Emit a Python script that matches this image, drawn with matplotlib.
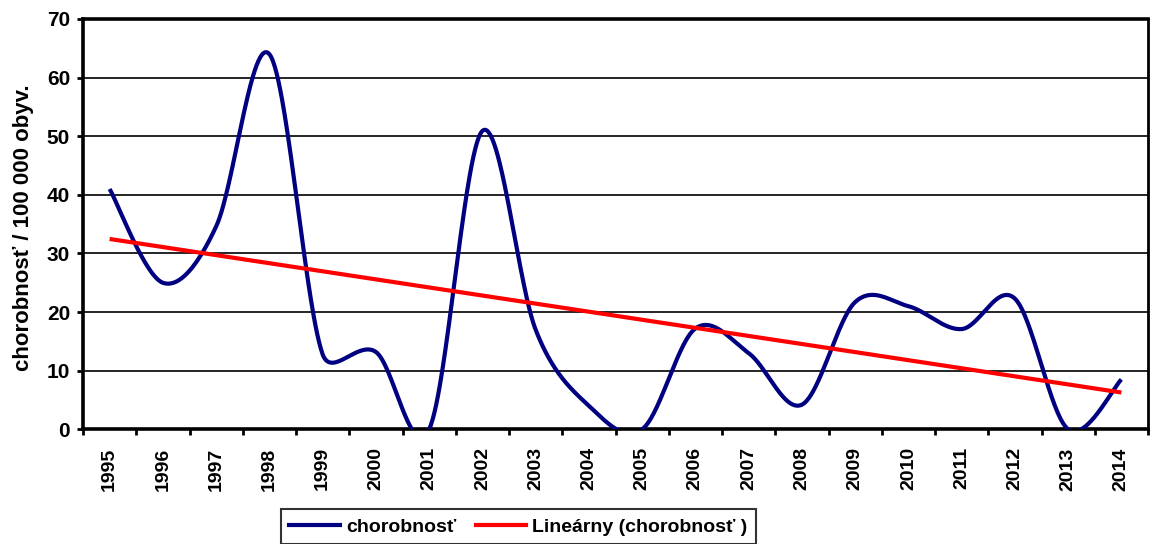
import numpy as np
import matplotlib
matplotlib.use("Agg")
import matplotlib.pyplot as plt
from matplotlib.lines import Line2D

years = [str(y) for y in range(1995, 2015)]
values = [41.0, 25.0, 34.6, 64.0, 12.8, 13.2, 0.0, 50.9, 17.0, 4.0,
          0.0, 17.2, 13.0, 4.2, 21.7, 21.0, 17.1, 22.3, 0.0, 8.5]
yticks = [0, 10, 20, 30, 40, 50, 60, 70]
series_name = "chorobnosť"
trend_name = "Lineárny (chorobnosť )"
ylabel = "chorobnosť / 100 000 obyv."

plt.rcParams['font.family'] = ['Liberation Sans', 'DejaVu Sans']
plt.rcParams['font.weight'] = 'bold'

W, H = 1150, 544
fig = plt.figure(figsize=(W / 100, H / 100), dpi=100)
ax = fig.add_axes([83 / W, 1 - 429.3 / H, (1148 - 83) / W, (429.3 - 19) / H])

x = np.arange(len(values), dtype=float)
y = np.array(values, dtype=float)

# Excel-like smoothing (Bezier, control points limited by segment lengths) in pixel space
sx, sy = 53.3, 5.861
P = np.column_stack([x * sx, y * sy])


def dist(a, b):
    return float(np.hypot(*(a - b)))


cx, cy = [], []
n = len(P)
for i in range(n - 1):
    p1, p2 = P[i], P[i + 1]
    p0 = P[i - 1] if i > 0 else p1
    p3 = P[i + 2] if i + 2 < n else p2
    d12 = dist(p1, p2)
    d02 = dist(p0, p2)
    d13 = dist(p1, p3)
    f1 = 1 / 6 if d02 == 0 else min(1 / 6, d12 / (2 * d02))
    f2 = 1 / 6 if d13 == 0 else min(1 / 6, d12 / (2 * d13))
    c1 = p1 + f1 * (p2 - p0)
    c2 = p2 - f2 * (p3 - p1)
    t = np.linspace(0, 1, 60)[:, None]
    b = ((1 - t) ** 3) * p1 + 3 * ((1 - t) ** 2) * t * c1 + 3 * (1 - t) * t ** 2 * c2 + t ** 3 * p2
    cx.extend(b[:, 0] / sx)
    cy.extend(b[:, 1] / sy)

ax.plot(cx, cy, color='#000080', lw=3.0, solid_capstyle='butt', zorder=3)

k, c0 = np.polyfit(x, y, 1)
ax.plot([x[0], x[-1]], [c0 + k * x[0], c0 + k * x[-1]], color='#FF0000', lw=3.0,
        solid_capstyle='butt', zorder=4)

ax.set_xlim(-0.5, len(values) - 0.5)
ax.set_ylim(0, 70)
ax.set_yticks(yticks)
ax.set_yticklabels([str(v) for v in yticks], fontsize=15, fontweight='bold')
ax.set_xticks(np.arange(-0.5, len(values) + 0.5, 1.0))
ax.set_xticklabels([])
ax.set_xticks(x, minor=True)
ax.set_xticklabels(years, minor=True, rotation=90, fontsize=14, fontweight='bold', va='top')
ax.tick_params(axis='x', which='minor', length=0, pad=13)
ax.tick_params(axis='x', which='major', length=6 * 0.72, width=2, direction='out')
ax.tick_params(axis='y', length=6 * 0.72, width=2, direction='out', pad=5)

ax.grid(axis='y', color='black', lw=1.2, zorder=1)
for s in ['left', 'bottom', 'top']:
    ax.spines[s].set_linewidth(2.6)
ax.spines['right'].set_linewidth(2.0)
ax.set_axisbelow(True)

fig.text(24 / W, 1 - 227.5 / H, ylabel, rotation=90, ha='center', va='center',
         fontsize=16, fontweight='bold')

handles = [Line2D([], [], color='#000080', lw=3.0), Line2D([], [], color='#FF0000', lw=3.0)]
leg = fig.legend(handles, [series_name, trend_name], loc='upper left',
                 bbox_to_anchor=(280.7 / W, 1 - 509.3 / H), ncol=2, frameon=True,
                 fancybox=False, edgecolor='black', borderaxespad=0,
                 prop={'size': 14, 'weight': 'bold'}, handlelength=2.6,
                 handletextpad=0.3, columnspacing=1.0, borderpad=0.45)
leg.get_frame().set_linewidth(1.5)

fig.savefig('out.png', dpi=100)
